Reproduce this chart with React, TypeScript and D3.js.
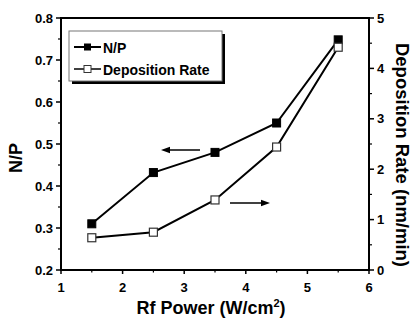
import React from "react";
import * as d3 from "d3";

const power = [1.5, 2.5, 3.5, 4.5, 5.5];
const npRatio = [0.31, 0.432, 0.48, 0.55, 0.748];
const depRate = [0.64, 0.75, 1.39, 2.44, 4.42];
const xTicks = [1, 2, 3, 4, 5, 6];
const leftTicks = [0.2, 0.3, 0.4, 0.5, 0.6, 0.7, 0.8];
const rightTicks = [0, 1, 2, 3, 4, 5];

const W = 415, H = 323;
const L = 61, R = 369, T = 18, B = 270;
const FONT = "'Liberation Sans', Arial, Helvetica, sans-serif";

function Arrow({ x1, x2, y }: { x1: number; x2: number; y: number }) {
  const dir = Math.sign(x2 - x1);
  const hl = 9, hw = 3.2;
  return (
    <g>
      <line x1={x1} y1={y} x2={x2 - dir * hl * 0.6} y2={y} stroke="#000" strokeWidth={1.6} />
      <path d={`M${x2},${y} L${x2 - dir * hl},${y - hw} L${x2 - dir * hl},${y + hw} Z`} fill="#000" />
    </g>
  );
}

export default function App() {
  const x = d3.scaleLinear().domain([1, 6]).range([L, R]);
  const yl = d3.scaleLinear().domain([0.2, 0.8]).range([B, T]);
  const yr = d3.scaleLinear().domain([0, 5]).range([B, T]);
  const line = d3.line<[number, number]>();
  const npPts: [number, number][] = power.map((p, i) => [x(p), yl(npRatio[i])]);
  const depPts: [number, number][] = power.map((p, i) => [x(p), yr(depRate[i])]);
  const xMinor = d3.range(1.5, 6, 1);
  const lMinor = d3.range(0.25, 0.8, 0.1);
  const rMinor = d3.range(0.5, 5, 1);
  const sq = 8;
  return (
    <svg width={W} height={H} style={{ position: "absolute", left: 0, top: 0, background: "#fff" }}>
      <rect x={L} y={T} width={R - L} height={B - T} fill="none" stroke="#000" strokeWidth={2} />
      {xTicks.map((t) => (
        <g key={"x" + t}>
          <line x1={x(t)} x2={x(t)} y1={B} y2={B + 4} stroke="#000" strokeWidth={1.5} />
          <text x={x(t)} y={B + 22} textAnchor="middle" fontFamily={FONT} fontWeight="bold" fontSize={13}>{t}</text>
        </g>
      ))}
      {xMinor.map((t) => (
        <line key={"xm" + t} x1={x(t)} x2={x(t)} y1={B} y2={B + 2.5} stroke="#000" strokeWidth={1.2} />
      ))}
      {leftTicks.map((t) => (
        <g key={"l" + t}>
          <line x1={L - 5} x2={L} y1={yl(t)} y2={yl(t)} stroke="#000" strokeWidth={1.5} />
          <text x={L - 8} y={yl(t) + 4.5} textAnchor="end" fontFamily={FONT} fontWeight="bold" fontSize={13}>{t.toFixed(1)}</text>
        </g>
      ))}
      {lMinor.map((t) => (
        <line key={"lm" + t} x1={L - 3} x2={L} y1={yl(t)} y2={yl(t)} stroke="#000" strokeWidth={1.2} />
      ))}
      {rightTicks.map((t) => (
        <g key={"r" + t}>
          <line x1={R} x2={R + 5} y1={yr(t)} y2={yr(t)} stroke="#000" strokeWidth={1.5} />
          <text x={R + 8} y={yr(t) + 4.5} textAnchor="start" fontFamily={FONT} fontWeight="bold" fontSize={13}>{t}</text>
        </g>
      ))}
      {rMinor.map((t) => (
        <line key={"rm" + t} x1={R} x2={R + 3} y1={yr(t)} y2={yr(t)} stroke="#000" strokeWidth={1.2} />
      ))}
      <text x={211} y={314} textAnchor="middle" fontFamily={FONT} fontWeight="bold" fontSize={18}>
        Rf Power (W/cm<tspan dy={-7} fontSize={11}>2</tspan><tspan dy={7}>)</tspan>
      </text>
      <text transform={`translate(22,158) rotate(-90)`} textAnchor="middle" fontFamily={FONT} fontWeight="bold" fontSize={18}>N/P</text>
      <text transform={`translate(396,155) rotate(90)`} textAnchor="middle" fontFamily={FONT} fontWeight="bold" fontSize={18.5}>Deposition Rate (nm/min)</text>
      <path d={line(npPts) || ""} fill="none" stroke="#000" strokeWidth={2} />
      <path d={line(depPts) || ""} fill="none" stroke="#000" strokeWidth={2} />
      {npPts.map(([px, py], i) => (
        <rect key={"n" + i} x={px - sq / 2} y={py - sq / 2} width={sq} height={sq} fill="#000" stroke="#000" strokeWidth={1} />
      ))}
      {depPts.map(([px, py], i) => (
        <rect key={"d" + i} x={px - sq / 2} y={py - sq / 2} width={sq} height={sq} fill="#fff" stroke="#333" strokeWidth={1.2} />
      ))}
      <Arrow x1={200} x2={161} y={150} />
      <Arrow x1={230} x2={270} y={203} />
      <rect x={72} y={34} width={153} height={50} fill="#000" />
      <rect x={69} y={31} width={153} height={50} fill="#fff" stroke="#777" strokeWidth={1} />
      <line x1={74} x2={101} y1={47} y2={47} stroke="#000" strokeWidth={2} />
      <rect x={84} y={43.5} width={7} height={7} fill="#000" />
      <text x={103} y={52.5} fontFamily={FONT} fontWeight="bold" fontSize={14}>N/P</text>
      <line x1={74} x2={101} y1={69} y2={69} stroke="#000" strokeWidth={1.5} />
      <rect x={84} y={65.5} width={7} height={7} fill="#fff" stroke="#333" strokeWidth={1} />
      <text x={103} y={74.5} fontFamily={FONT} fontWeight="bold" fontSize={14}>Deposition Rate</text>
    </svg>
  );
}
